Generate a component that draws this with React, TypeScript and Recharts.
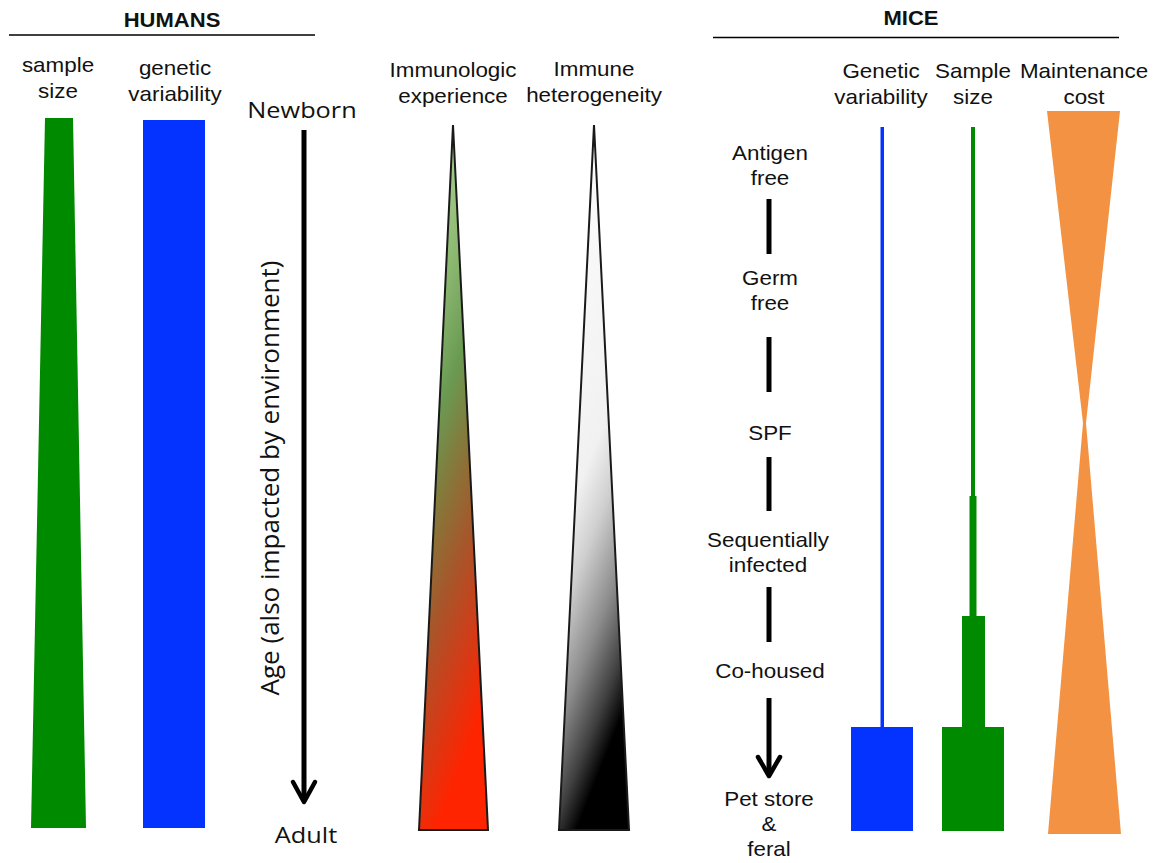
import { ComposedChart, Scatter, XAxis, YAxis } from "recharts"

// the figure is drawn on a 1162 x 863 grid, y runs downward
const W = 1162
const H = 863

// HUMANS columns (outline vertices)
const humanSampleSize = [
  { x: 45, y: 118 },
  { x: 73, y: 118 },
  { x: 86, y: 828 },
  { x: 31, y: 828 },
]
const humanGeneticVar = [
  { x: 143, y: 120 },
  { x: 205, y: 120 },
  { x: 205, y: 828 },
  { x: 143, y: 828 },
]
const immunologicExperience = [
  { x: 453, y: 125 },
  { x: 488, y: 830 },
  { x: 419, y: 830 },
]
const immuneHeterogeneity = [
  { x: 594, y: 125 },
  { x: 629, y: 830 },
  { x: 559, y: 830 },
]

// MICE columns
const miceGeneticVar = [
  { x: 880.5, y: 127 },
  { x: 884, y: 127 },
  { x: 884, y: 727 },
  { x: 913, y: 727 },
  { x: 913, y: 831 },
  { x: 851, y: 831 },
  { x: 851, y: 727 },
  { x: 880.5, y: 727 },
]
const miceSampleSize = [
  { x: 971, y: 127 },
  { x: 975, y: 127 },
  { x: 975, y: 496 },
  { x: 976.5, y: 496 },
  { x: 976.5, y: 616 },
  { x: 985, y: 616 },
  { x: 985, y: 727 },
  { x: 1004, y: 727 },
  { x: 1004, y: 831 },
  { x: 942, y: 831 },
  { x: 942, y: 727 },
  { x: 962, y: 727 },
  { x: 962, y: 616 },
  { x: 969.5, y: 616 },
  { x: 969.5, y: 496 },
  { x: 971, y: 496 },
]
const miceMaintenanceCost = [
  { x: 1047, y: 111 },
  { x: 1120, y: 111 },
  { x: 1086, y: 423 },
  { x: 1121, y: 834 },
  { x: 1048, y: 834 },
  { x: 1083, y: 423 },
]

// rules, arrows and the dashes between housing stages
const humansRule = [{ x: 9, y: 35 }, { x: 315, y: 35 }]
const miceRule = [{ x: 713, y: 37.5 }, { x: 1119, y: 37.5 }]
const ageShaft = [{ x: 304, y: 130 }, { x: 304, y: 800 }]
const ageHead = [{ x: 293, y: 782 }, { x: 304, y: 802 }, { x: 315, y: 782 }]
const stageDashes = [
  { x: 769, y: 199 }, { x: 769, y: 254 },
  { x: 769, y: 337 }, { x: 769, y: 392 },
  { x: 769, y: 457 }, { x: 769, y: 511 },
  { x: 769, y: 587 }, { x: 769, y: 642 },
]
const stageShaft = [{ x: 769, y: 698 }, { x: 769, y: 774 }]
const stageHead = [{ x: 758, y: 757 }, { x: 769, y: 776 }, { x: 780, y: 757 }]

// text
const titles = [
  { x: 172, y: 27, lines: ["HUMANS"] },
  { x: 911, y: 25, lines: ["MICE"] },
]
const columnLabels = [
  { x: 58, y: 72, lines: ["sample", "size"] },
  { x: 175, y: 75, lines: ["genetic", "variability"] },
  { x: 453, y: 77, lines: ["Immunologic", "experience"] },
  { x: 594, y: 76, lines: ["Immune", "heterogeneity"] },
  { x: 881, y: 78, lines: ["Genetic", "variability"] },
  { x: 973, y: 78, lines: ["Sample", "size"] },
  { x: 1084, y: 78, lines: ["Maintenance", "cost"] },
]
const stageLabels = [
  { x: 770, y: 160, lines: ["Antigen", "free"] },
  { x: 770, y: 285, lines: ["Germ", "free"] },
  { x: 770, y: 440, lines: ["SPF"] },
  { x: 768, y: 547, lines: ["Sequentially", "infected"] },
  { x: 770, y: 678, lines: ["Co-housed"] },
  { x: 769, y: 806, lines: ["Pet store", "&", "feral"] },
]
const ageLabels = [
  { x: 302, y: 118, lines: ["Newborn"] },
  { x: 306, y: 843, lines: ["Adult"] },
]
const ageAxisLabel = [{ x: 279, y: 478, lines: ["Age (also impacted by environment)"] }]

const ARIAL = "'Liberation Sans', Arial, sans-serif"
const SOFT = "'Open Sans', 'Noto Sans', sans-serif"

const fillPolygon = (fill: string, stroke = "none", strokeWidth = 0) => (props: any) => {
  const pts = (props.points || []).map((p: any) => `${p.x},${p.y}`).join(" ")
  return <polygon points={pts} fill={fill} stroke={stroke} strokeWidth={strokeWidth} strokeLinejoin="miter" />
}

const strokeLine = (width: number, cap: "butt" | "round" = "butt") => (props: any) => {
  const pts = (props.points || []).map((p: any) => `${p.x},${p.y}`).join(" ")
  return <polyline points={pts} fill="none" stroke="#000" strokeWidth={width} strokeLinecap={cap} strokeLinejoin="round" />
}

const pairedSegments = (width: number) => (props: any) => {
  const pts = props.points || []
  const out = []
  for (let i = 0; i + 1 < pts.length; i += 2) {
    out.push(
      <line key={i} x1={pts[i].x} y1={pts[i].y} x2={pts[i + 1].x} y2={pts[i + 1].y} stroke="#000" strokeWidth={width} />
    )
  }
  return <g>{out}</g>
}

const textMark = (font: string, size: number, weight: number, lineHeight: number, stretch: number, rotate = 0) =>
  (props: any) => {
    const { cx, cy, payload } = props
    return (
      <text
        transform={`translate(${cx},${cy}) rotate(${rotate}) scale(${stretch},1)`}
        textAnchor="middle"
        fontFamily={font}
        fontSize={size}
        fontWeight={weight}
        fill="#111"
      >
        {payload.lines.map((l: string, i: number) => (
          <tspan key={i} x={0} dy={i === 0 ? 0 : lineHeight}>
            {l}
          </tspan>
        ))}
      </text>
    )
  }

const noDot = () => <g />

export default function App() {
  return (
    <div style={{ position: "absolute", left: 0, top: 0, background: "#fff" }}>
      <ComposedChart width={W} height={H} margin={{ top: 0, right: 0, bottom: 0, left: 0 }}>
        <defs>
          <linearGradient id="experience" x1="0" y1="0" x2="0.25" y2="1">
            <stop offset="0%" stopColor="#b9dea5" />
            <stop offset="28%" stopColor="#8fba74" />
            <stop offset="45%" stopColor="#6a9a52" />
            <stop offset="58%" stopColor="#86773a" />
            <stop offset="72%" stopColor="#a8552a" />
            <stop offset="86%" stopColor="#d23c17" />
            <stop offset="100%" stopColor="#ff2400" />
          </linearGradient>
          <linearGradient id="heterogeneity" x1="0" y1="0" x2="0.25" y2="1">
            <stop offset="0%" stopColor="#ffffff" />
            <stop offset="55%" stopColor="#f1f1f1" />
            <stop offset="66%" stopColor="#cfcfcf" />
            <stop offset="80%" stopColor="#8c8c8c" />
            <stop offset="92%" stopColor="#404040" />
            <stop offset="100%" stopColor="#000000" />
          </linearGradient>
        </defs>
        <XAxis type="number" dataKey="x" domain={[0, W]} allowDataOverflow hide />
        <YAxis type="number" dataKey="y" domain={[0, H]} allowDataOverflow reversed hide />

        <Scatter data={humanSampleSize} line={fillPolygon("#008a00")} shape={noDot} isAnimationActive={false} />
        <Scatter data={humanGeneticVar} line={fillPolygon("#0433ff")} shape={noDot} isAnimationActive={false} />
        <Scatter data={immunologicExperience} line={fillPolygon("url(#experience)", "#1a1a1a", 2)} shape={noDot} isAnimationActive={false} />
        <Scatter data={immuneHeterogeneity} line={fillPolygon("url(#heterogeneity)", "#1a1a1a", 2)} shape={noDot} isAnimationActive={false} />
        <Scatter data={miceGeneticVar} line={fillPolygon("#0433ff")} shape={noDot} isAnimationActive={false} />
        <Scatter data={miceSampleSize} line={fillPolygon("#008a00")} shape={noDot} isAnimationActive={false} />
        <Scatter data={miceMaintenanceCost} line={fillPolygon("#f29242")} shape={noDot} isAnimationActive={false} />

        <Scatter data={humansRule} line={strokeLine(1.5)} shape={noDot} isAnimationActive={false} />
        <Scatter data={miceRule} line={strokeLine(1.5)} shape={noDot} isAnimationActive={false} />
        <Scatter data={ageShaft} line={strokeLine(5)} shape={noDot} isAnimationActive={false} />
        <Scatter data={ageHead} line={strokeLine(4.5, "round")} shape={noDot} isAnimationActive={false} />
        <Scatter data={stageDashes} line={pairedSegments(5)} shape={noDot} isAnimationActive={false} />
        <Scatter data={stageShaft} line={strokeLine(5)} shape={noDot} isAnimationActive={false} />
        <Scatter data={stageHead} line={strokeLine(4.5, "round")} shape={noDot} isAnimationActive={false} />

        <Scatter data={titles} shape={textMark(ARIAL, 19.5, 700, 26, 1.13)} isAnimationActive={false} />
        <Scatter data={columnLabels} shape={textMark(ARIAL, 20, 400, 26, 1.12)} isAnimationActive={false} />
        <Scatter data={stageLabels} shape={textMark(ARIAL, 20, 400, 25, 1.12)} isAnimationActive={false} />
        <Scatter data={ageLabels} shape={textMark(SOFT, 22, 400, 26, 1.15)} isAnimationActive={false} />
        <Scatter data={ageAxisLabel} shape={textMark(SOFT, 26, 400, 26, 1, -90)} isAnimationActive={false} />
      </ComposedChart>
    </div>
  )
}
